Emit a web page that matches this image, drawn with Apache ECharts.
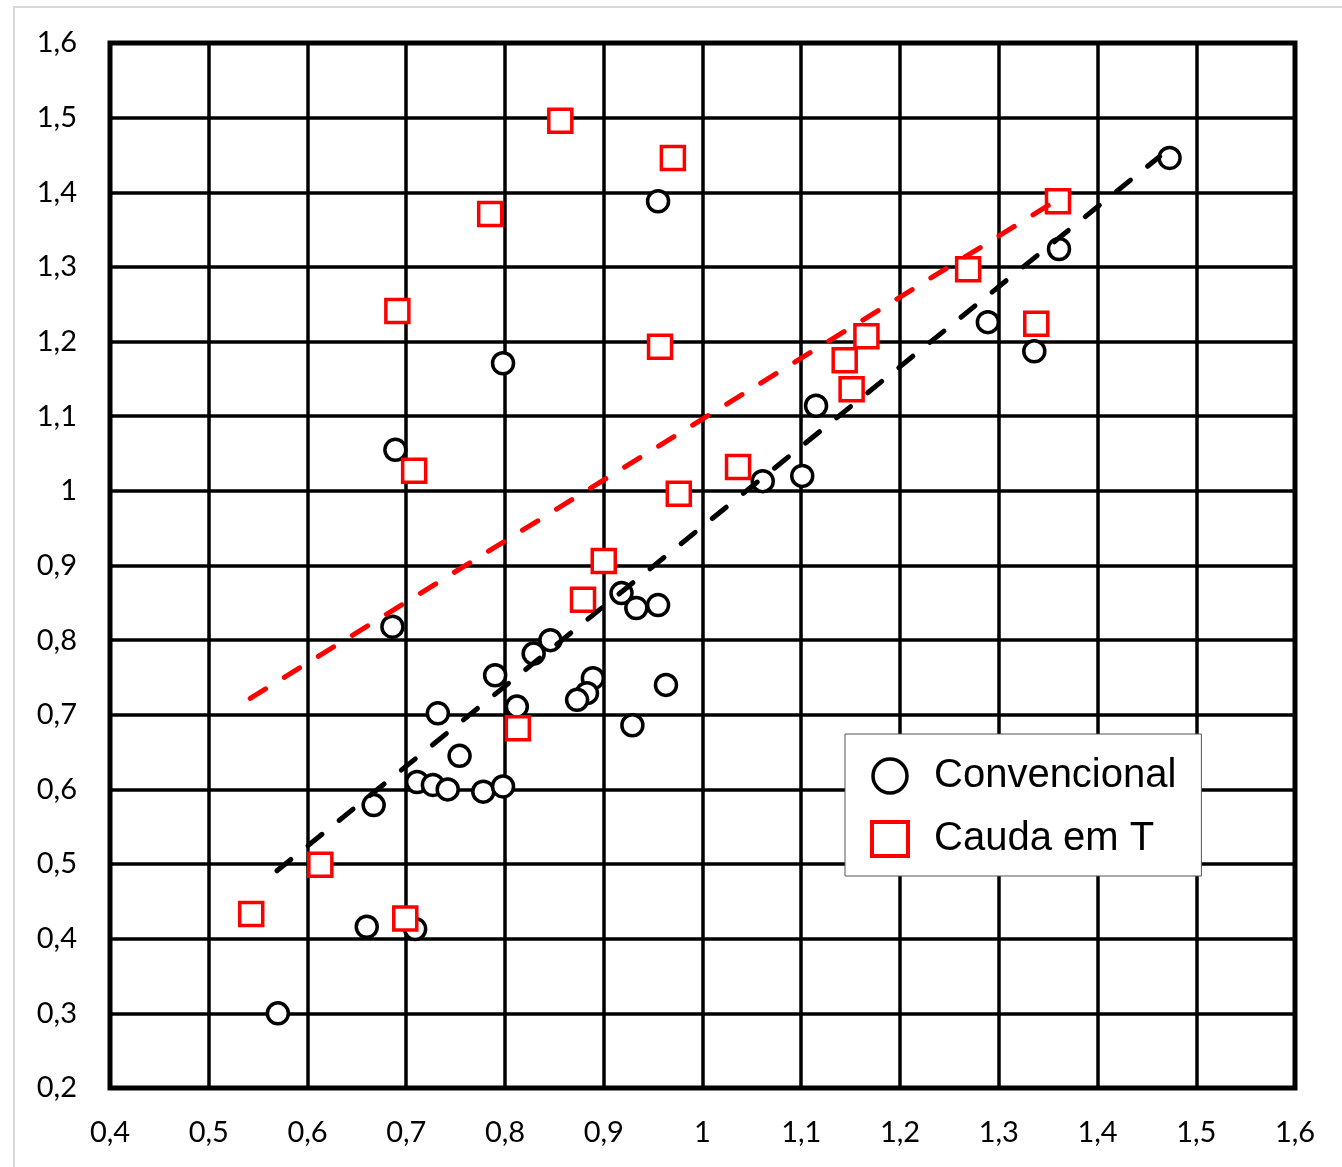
<!DOCTYPE html>
<html>
<head>
<meta charset="utf-8">
<script src="https://cdn.jsdelivr.net/npm/echarts@6/dist/echarts.min.js"></script>
<style>html,body{margin:0;padding:0;background:#fff;}#c{width:1342px;height:1167px;}</style>
</head>
<body>
<div id="c"></div>
<script>
// Convencional (circles)
const convX = [1.473,1.361,1.289,1.336,0.955,0.798,1.115,0.689,1.061,1.101,0.686,0.918,0.933,0.955,0.846,0.829,0.790,0.812,0.889,0.883,0.873,0.963,0.929,0.732,0.754,0.711,0.727,0.742,0.778,0.798,0.667,0.660,0.709,0.570];
const convY = [1.446,1.324,1.226,1.187,1.388,1.171,1.114,1.055,1.013,1.020,0.818,0.863,0.843,0.847,0.800,0.782,0.753,0.711,0.749,0.729,0.720,0.740,0.686,0.702,0.645,0.610,0.606,0.600,0.597,0.604,0.579,0.416,0.413,0.300];
// Cauda em T (squares)
const caudaX = [0.856,0.970,0.785,1.360,1.269,0.691,0.957,1.338,1.166,1.144,1.151,1.036,0.708,0.976,0.900,0.879,0.813,0.613,0.543,0.699];
const caudaY = [1.496,1.446,1.371,1.388,1.297,1.241,1.193,1.224,1.207,1.175,1.136,1.032,1.027,0.996,0.906,0.854,0.682,0.499,0.433,0.427];
// Trend lines (endpoints)
const trendConvX = [0.569,1.463];
const trendConvY = [0.491,1.448];
const trendCaudaX = [0.542,1.362];
const trendCaudaY = [0.722,1.392];
const seriesNames = ['Convencional','Cauda em T'];

const zip = (a,b) => a.map((v,i)=>[v,b[i]]);
const fmt = v => { const r = Math.round(v*10)/10; return (r===1? '1' : r.toFixed(1)).replace('.', ','); };

const chart = echarts.init(document.getElementById('c'));
chart.setOption({
  backgroundColor:'#fff',
  animation:false,
  graphic:[{type:'rect', shape:{x:14,y:7,width:1400,height:1300}, style:{fill:'none', stroke:'#d9d9d9', lineWidth:2}, z:-10}],
  grid:{left:110, right:47, top:43, bottom:79, show:true, borderColor:'#000', borderWidth:5, backgroundColor:'transparent'},
  xAxis:{type:'value', min:0.4, max:1.6, interval:0.1,
    axisLine:{show:false}, axisTick:{show:false},
    splitLine:{show:true, lineStyle:{color:'#000', width:3.5}},
    axisLabel:{formatter:fmt, fontFamily:'Lato', fontSize:29, color:'#000', margin:30}},
  yAxis:{type:'value', min:0.2, max:1.6, interval:0.1,
    axisLine:{show:false}, axisTick:{show:false},
    splitLine:{show:true, lineStyle:{color:'#000', width:3.5}},
    axisLabel:{formatter:fmt, fontFamily:'Lato', fontSize:29, color:'#000', margin:33}},
  legend:{
    left:845, top:734, orient:'vertical',
    backgroundColor:'#fff', borderColor:'#555', borderWidth:1,
    padding:[22,25,17,25], itemGap:23, itemWidth:36, itemHeight:34,
    textStyle:{fontFamily:'Liberation Sans', fontSize:40, color:'#000', padding:[0,0,0,21]},
    data:[
      {name:seriesNames[0], icon:'circle', itemStyle:{color:'#fff', borderColor:'#000', borderWidth:3.5}},
      {name:seriesNames[1], icon:'rect', itemStyle:{color:'#fff', borderColor:'#ff0000', borderWidth:4}}
    ]
  },
  series:[
    {name:seriesNames[0], type:'scatter', symbol:'circle', symbolSize:21, z:2,
     itemStyle:{color:'#fff', borderColor:'#000', borderWidth:3.5, opacity:1},
     data:zip(convX,convY)},
    {name:seriesNames[1], type:'scatter', symbol:'rect', symbolSize:23, z:2,
     itemStyle:{color:'#fff', borderColor:'#ff0000', borderWidth:3.5, opacity:1},
     data:zip(caudaX,caudaY)},
    {name:'trendConv', type:'line', symbol:'none', z:3, silent:true,
     lineStyle:{color:'#000', width:5, type:[18,22], cap:'round'},
     data:zip(trendConvX,trendConvY)},
    {name:'trendCauda', type:'line', symbol:'none', z:3, silent:true,
     lineStyle:{color:'#ff0000', width:5, type:[18,22], cap:'round'},
     data:zip(trendCaudaX,trendCaudaY)}
  ]
});
</script>
</body>
</html>
